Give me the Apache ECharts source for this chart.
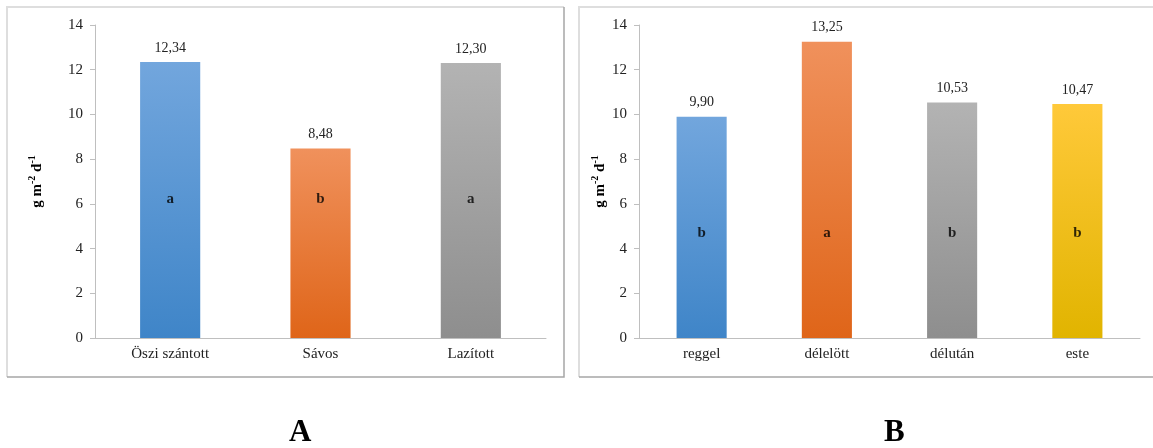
<!DOCTYPE html>
<html><head><meta charset="utf-8">
<script src="https://cdn.jsdelivr.net/npm/echarts@6/dist/echarts.min.js"></script>
<style>html,body{margin:0;padding:0;background:#fff}#c{width:1153px;height:448px}</style>
</head><body><div id="c"></div>
<script>
const catsA = ['Öszi szántott', 'Sávos', 'Lazított'];
const valsA = [12.34, 8.48, 12.30];
const lettersA = ['a', 'b', 'a'];
const letterPosA = 6.2;
const catsB = ['reggel', 'délelött', 'délután', 'este'];
const valsB = [9.90, 13.25, 10.53, 10.47];
const lettersB = ['b', 'a', 'b', 'b'];
const letterPosB = 4.7;
const yTicks = [0, 2, 4, 6, 8, 10, 12, 14];
const panelLabels = ['A', 'B'];

const F = 'Liberation Serif, Times New Roman, serif';
const grad = (t, b) => new echarts.graphic.LinearGradient(0, 0, 0, 1, [{offset: 0, color: t}, {offset: 1, color: b}]);
const colBlue = grad('#72a6dd', '#3f85c8');
const colOrange = grad('#f0915c', '#df6519');
const colGrey = grad('#b3b3b3', '#8e8e8e');
const colYellow = grad('#ffc93a', '#e1b400');
const colorsA = [colBlue, colOrange, colGrey];
const colorsB = [colBlue, colOrange, colGrey, colYellow];

const fmt = v => v.toFixed(2).replace('.', ',');
const yName = '{a|g m}{s|-2}{a| d}{s|-1}';
const nameRich = {
  a: {fontFamily: F, fontWeight: 'bold', fontSize: 15, color: '#000', lineHeight: 18, verticalAlign: 'bottom'},
  s: {fontFamily: F, fontWeight: 'bold', fontSize: 10, color: '#000', lineHeight: 18, verticalAlign: 'top'}
};

function yAxis(gi, gap) {
  return {
    gridIndex: gi, type: 'value', min: 0, max: 14, interval: 2,
    name: yName, nameLocation: 'middle', nameRotate: 90, nameGap: gap,
    nameTextStyle: {rich: nameRich},
    axisLine: {show: true, lineStyle: {color: '#bfbfbf'}},
    axisTick: {show: true, length: 5, lineStyle: {color: '#bfbfbf'}},
    splitLine: {show: false},
    axisLabel: {fontFamily: F, fontSize: 15, color: '#222', margin: 12,
      formatter: v => yTicks.includes(v) ? String(v) : ''}
  };
}
function xAxis(gi, cats) {
  return {
    gridIndex: gi, type: 'category', data: cats,
    axisLine: {lineStyle: {color: '#bfbfbf'}},
    axisTick: {show: false},
    axisLabel: {fontFamily: F, fontSize: 15, color: '#222', margin: 9}
  };
}
function bars(gi, vals, colors) {
  return {
    type: 'bar', xAxisIndex: gi, yAxisIndex: gi, barWidth: '40%',
    data: vals.map((v, i) => ({value: v, itemStyle: {color: colors[i]}})),
    label: {show: true, position: 'top', distance: 7, fontFamily: F, fontSize: 14, color: '#222',
      formatter: p => fmt(p.value)}
  };
}
function letters(gi, ls, pos) {
  return {
    type: 'scatter', xAxisIndex: gi, yAxisIndex: gi, symbolSize: 0, silent: true, z: 5,
    data: ls.map(() => pos),
    label: {show: true, position: 'inside', fontFamily: F, fontWeight: 'bold', fontSize: 15, color: '#000',
      formatter: p => ls[p.dataIndex]}
  };
}
function frame(x0, y0, x1, y1) {
  return [
    {type: 'polyline', shape: {points: [[x0, y1], [x0, y0], [x1, y0]]}, style: {fill: 'none', stroke: '#dedede', lineWidth: 2}, z: -1},
    {type: 'polyline', shape: {points: [[x1, y0], [x1, y1], [x0, y1]]}, style: {fill: 'none', stroke: '#a6a6a6', lineWidth: 1.5}, z: -1}
  ];
}

const chart = echarts.init(document.getElementById('c'), null, {renderer: 'canvas'});
chart.setOption({
  animation: false,
  backgroundColor: '#fff',
  grid: [
    {left: 95, right: 607, top: 25, bottom: 110, containLabel: false},
    {left: 639, right: 13, top: 25, bottom: 110, containLabel: false}
  ],
  xAxis: [xAxis(0, catsA), xAxis(1, catsB)],
  yAxis: [yAxis(0, 50), yAxis(1, 24)],
  series: [bars(0, valsA, colorsA), letters(0, lettersA, letterPosA), bars(1, valsB, colorsB), letters(1, lettersB, letterPosB)],
  graphic: [
    ...frame(7, 7, 564, 377),
    ...frame(579, 7, 1156, 377),
    {type: 'text', left: 289, top: 417, style: {text: panelLabels[0], font: 'bold 31px ' + F, fill: '#000'}},
    {type: 'text', left: 884, top: 417, style: {text: panelLabels[1], font: 'bold 31px ' + F, fill: '#000'}}
  ]
});
</script></body></html>
